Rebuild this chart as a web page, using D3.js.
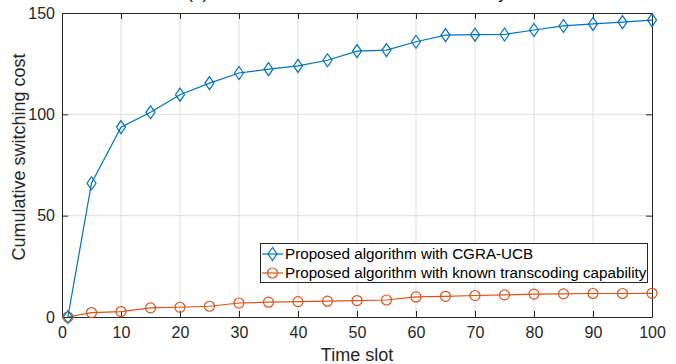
<!DOCTYPE html>
<html>
<head>
<meta charset="utf-8">
<script src="https://cdn.jsdelivr.net/npm/d3@7"></script>
<style>
  html, body { margin: 0; padding: 0; background: #fff; }
  svg { display: block; font-family: "Liberation Sans", Arial, Helvetica, sans-serif; }
</style>
</head>
<body>
<svg id="chart" width="676" height="364"></svg>
<script>
// Time slots at which cumulative switching cost was sampled
const timeSlots = [1, 5, 10, 15, 20, 25, 30, 35, 40, 45, 50, 55, 60, 65, 70, 75, 80, 85, 90, 95, 100];
// Cumulative switching cost, CGRA-UCB
const costCGRA = [0, 66, 93.7, 101, 109.7, 115.4, 120.4, 122.3, 123.9, 126.7, 131.2, 131.7, 135.8, 139.1, 139.3, 139.4, 141.6, 143.6, 144.6, 145.5, 146.5];
// Cumulative switching cost, known transcoding capability
const costKnown = [0, 2.2, 2.7, 4.5, 4.8, 5.3, 6.9, 7.3, 7.6, 7.8, 8.1, 8.4, 9.9, 10.2, 10.6, 10.9, 11.3, 11.4, 11.6, 11.6, 11.7];
const xTicks = [0, 10, 20, 30, 40, 50, 60, 70, 80, 90, 100];
const yTicks = [0, 50, 100, 150];
const seriesNames = ["Proposed algorithm with CGRA-UCB", "Proposed algorithm with known transcoding capability"];

const svg = d3.select("#chart");
const margin = { left: 62, right: 24, top: 13, bottom: 47 };
const W = 676, H = 364;
const x = d3.scaleLinear().domain([0, 100]).range([margin.left, W - margin.right]);
const y = d3.scaleLinear().domain([0, 150]).range([H - margin.bottom, margin.top]);

const axisColor = "#262626";
const blue = "#0072BD", orange = "#D95319";

// Panel title, sitting at the very top edge
svg.append("text")
  .attr("x", (x(0) + x(100)) / 2 - 10).attr("y", -1)
  .attr("text-anchor", "middle").attr("font-size", 17).attr("fill", "#000")
  .text("(a) Cumulative total cost under uncertainty");

// Grid
const grid = svg.append("g").attr("stroke", "#dfdfdf").attr("stroke-width", 1);
grid.selectAll(".gx").data(xTicks.slice(1, -1)).join("line")
  .attr("x1", d => x(d)).attr("x2", d => x(d))
  .attr("y1", y(0)).attr("y2", y(150));
grid.selectAll(".gy").data(yTicks.slice(1, -1)).join("line")
  .attr("x1", x(0)).attr("x2", x(100))
  .attr("y1", d => y(d)).attr("y2", d => y(d));

// Axes (ticks pointing inward, box on all sides)
const tickLen = 6;
const bottomAxis = d3.axisBottom(x).tickValues(xTicks).tickSizeInner(-tickLen).tickSizeOuter(0).tickPadding(10);
const topAxis = d3.axisTop(x).tickValues(xTicks).tickSizeInner(-tickLen).tickSizeOuter(0).tickFormat("");
const leftAxis = d3.axisLeft(y).tickValues(yTicks).tickSizeInner(-tickLen).tickSizeOuter(0).tickPadding(7);
const rightAxis = d3.axisRight(y).tickValues(yTicks).tickSizeInner(-tickLen).tickSizeOuter(0).tickFormat("");

function styleAxis(g) {
  g.select(".domain").attr("stroke", axisColor).attr("stroke-width", 1);
  g.selectAll(".tick line").attr("stroke", axisColor);
  g.selectAll(".tick text").attr("fill", axisColor).attr("font-size", 16)
    .attr("font-family", "Liberation Sans, Arial, sans-serif");
}
svg.append("g").attr("transform", `translate(0,${y(0)})`).call(bottomAxis).call(styleAxis);
svg.append("g").attr("transform", `translate(0,${y(150)})`).call(topAxis).call(styleAxis);
svg.append("g").attr("transform", `translate(${x(0)},0)`).call(leftAxis).call(styleAxis);
svg.append("g").attr("transform", `translate(${x(100)},0)`).call(rightAxis).call(styleAxis);

// Axis labels
svg.append("text").attr("x", (x(0) + x(100)) / 2).attr("y", 361)
  .attr("text-anchor", "middle").attr("font-size", 18).attr("fill", axisColor)
  .text("Time slot");
svg.append("text")
  .attr("transform", `translate(25,${(y(0) + y(150)) / 2 - 8}) rotate(-90)`)
  .attr("text-anchor", "middle").attr("font-size", 18).attr("fill", axisColor)
  .text("Cumulative switching cost");

// Marker shapes
const diamondPath = "M0,-6.5L4.5,0L0,6.5L-4.5,0Z";
function drawSeries(values, color, marker) {
  const pts = timeSlots.map((t, i) => [t, values[i]]);
  svg.append("path").datum(pts)
    .attr("fill", "none").attr("stroke", color).attr("stroke-width", 1.2)
    .attr("d", d3.line().x(d => x(d[0])).y(d => y(d[1])));
  const g = svg.append("g");
  if (marker === "diamond") {
    g.selectAll("path").data(pts).join("path")
      .attr("transform", d => `translate(${x(d[0])},${y(d[1])})`)
      .attr("d", diamondPath).attr("fill", "none").attr("stroke", color).attr("stroke-width", 1.2);
  } else {
    g.selectAll("circle").data(pts).join("circle")
      .attr("cx", d => x(d[0])).attr("cy", d => y(d[1])).attr("r", 5)
      .attr("fill", "none").attr("stroke", color).attr("stroke-width", 1.2);
  }
}
drawSeries(costKnown, orange, "circle");
drawSeries(costCGRA, blue, "diamond");

// Legend
const lg = svg.append("g");
lg.append("rect").attr("x", 260.5).attr("y", 243.5).attr("width", 387).attr("height", 39)
  .attr("fill", "#fff").attr("stroke", axisColor).attr("stroke-width", 1);
const legendItems = [
  { name: seriesNames[0], color: blue, marker: "diamond", cy: 254 },
  { name: seriesNames[1], color: orange, marker: "circle", cy: 273 }
];
legendItems.forEach(it => {
  lg.append("line").attr("x1", 262).attr("x2", 283).attr("y1", it.cy).attr("y2", it.cy)
    .attr("stroke", it.color).attr("stroke-width", 1.2);
  if (it.marker === "diamond") {
    lg.append("path").attr("transform", `translate(272.5,${it.cy})`).attr("d", diamondPath)
      .attr("fill", "none").attr("stroke", it.color).attr("stroke-width", 1.2);
  } else {
    lg.append("circle").attr("cx", 272.5).attr("cy", it.cy).attr("r", 5)
      .attr("fill", "none").attr("stroke", it.color).attr("stroke-width", 1.2);
  }
  lg.append("text").attr("x", 285).attr("y", it.cy + 5.3).attr("font-size", 15.2).attr("fill", "#000")
    .text(it.name);
});
</script>
</body>
</html>
